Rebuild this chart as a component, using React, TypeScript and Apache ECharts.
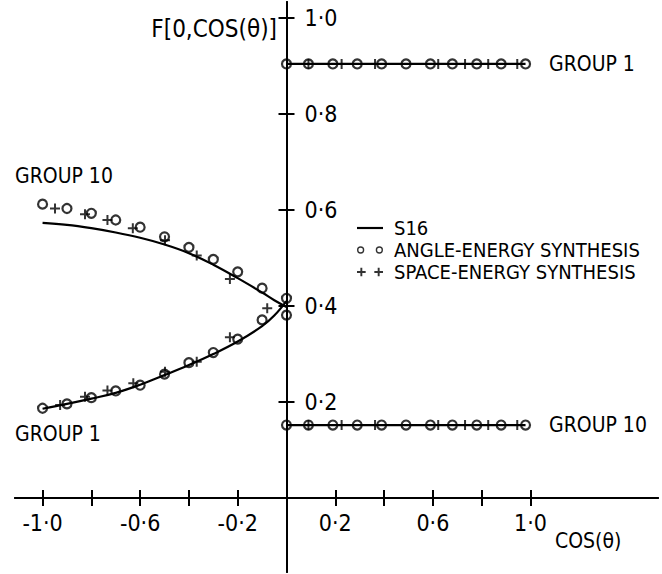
import React, { useEffect, useRef } from "react";
import * as echarts from "echarts";

// ---- data ----
const upperLineX = [-1.0, -0.9, -0.8, -0.7, -0.6, -0.5, -0.4, -0.3, -0.2, -0.1, -0.05, 0.0];
const upperLineY = [0.573, 0.569, 0.562, 0.553, 0.542, 0.528, 0.51, 0.486, 0.458, 0.428, 0.412, 0.398];
const lowerLineX = [-1.0, -0.9, -0.8, -0.7, -0.6, -0.5, -0.4, -0.3, -0.2, -0.1, -0.05, 0.0];
const lowerLineY = [0.186, 0.196, 0.207, 0.219, 0.236, 0.256, 0.277, 0.3, 0.326, 0.358, 0.38, 0.41];

const leftCircleX = [-1.0, -0.9, -0.8, -0.7, -0.6, -0.5, -0.4, -0.3, -0.2, -0.1, 0.0];
const upperCircleY = [0.612, 0.603, 0.593, 0.579, 0.564, 0.544, 0.522, 0.497, 0.471, 0.437, 0.416];
const lowerCircleY = [0.187, 0.196, 0.209, 0.223, 0.235, 0.258, 0.282, 0.303, 0.331, 0.371, 0.381];

const upperPlusX = [-0.949, -0.826, -0.734, -0.63, -0.498, -0.368, -0.232];
const upperPlusY = [0.603, 0.591, 0.579, 0.562, 0.537, 0.505, 0.456];
const lowerPlusX = [-0.928, -0.826, -0.734, -0.628, -0.498, -0.368, -0.232, -0.079];
const lowerPlusY = [0.194, 0.211, 0.224, 0.239, 0.263, 0.284, 0.335, 0.395];

const rightX = [0, 0.09, 0.19, 0.29, 0.39, 0.49, 0.59, 0.68, 0.78, 0.88, 0.98];
const rightPlusX = [0.09, 0.226, 0.363, 0.622, 0.732, 0.827, 0.946];
const group1Level = 0.904;
const group10Level = 0.152;

const xTicks = [-1.0, -0.8, -0.6, -0.4, -0.2, 0, 0.2, 0.4, 0.6, 0.8, 1.0];
const xTickLabels = [-1.0, -0.6, -0.2, 0.2, 0.6, 1.0];
const yTicks = [0.2, 0.4, 0.6, 0.8, 1.0];
const yTickLabels = [0.2, 0.4, 0.6, 0.8, 1.0];

const X_MIN = -1.113;
const X_MAX = 1.523;
const Y_MIN = -0.154;
const Y_MAX = 1.033;

const TEXT_FONT = "'DejaVu Sans Condensed', 'Liberation Sans Narrow', sans-serif";
const NUM_FONT = "'DejaVu Sans Condensed', sans-serif";

const PLUS_PATH = "path://M4,0h2v4h4v2h-4v4h-2v-4h-4v-2h4z";
const LEGEND_LINE = "path://M0,0h24v2h-24z";
const LEGEND_RINGS =
  "path://M0,3.5A3.5,3.5,0,1,1,7,3.5A3.5,3.5,0,1,1,0,3.5Z M1.3,3.5A2.2,2.2,0,1,0,5.7,3.5A2.2,2.2,0,1,0,1.3,3.5Z " +
  "M18,3.5A3.5,3.5,0,1,1,25,3.5A3.5,3.5,0,1,1,18,3.5Z M19.3,3.5A2.2,2.2,0,1,0,23.7,3.5A2.2,2.2,0,1,0,19.3,3.5Z";
const LEGEND_PLUS =
  "path://M3.5,0h2v3.5h3.5v2h-3.5v3.5h-2v-3.5h-3.5v-2h3.5z M21.5,0h2v3.5h3.5v2h-3.5v3.5h-2v-3.5h-3.5v-2h3.5z";

const fmt = (v: number) => v.toFixed(1).replace(".", "\u00B7");

// layout of the plotting area
const GRID = { left: 15, right: 4, top: 2, bottom: 2 };
const W = 662;
const H = 574;

export default function App() {
  const ref = useRef<HTMLDivElement>(null);

  useEffect(() => {
    if (!ref.current) return;
    const chart = echarts.init(ref.current, null, { renderer: "svg" });

    const pair = (xs: number[], ys: number[]) => xs.map((x, i) => [x, ys[i]]);
    const level = (xs: number[], y: number) => xs.map((x) => [x, y]);

    const circles = [
      ...pair(leftCircleX, upperCircleY),
      ...pair(leftCircleX, lowerCircleY),
      ...level(rightX, group1Level),
      ...level(rightX, group10Level),
    ];
    const pluses = [
      ...pair(upperPlusX, upperPlusY),
      ...pair(lowerPlusX, lowerPlusY),
      ...level(rightPlusX, group1Level),
      ...level(rightPlusX, group10Level),
    ];

    // distance from the grid edge to the zero line, used to bring the labelled axes onto zero
    const gridW = W - GRID.left - GRID.right;
    const gridH = H - GRID.top - GRID.bottom;
    const xZeroFromLeft = ((0 - X_MIN) / (X_MAX - X_MIN)) * gridW;
    const yZeroFromBottom = ((0 - Y_MIN) / (Y_MAX - Y_MIN)) * gridH;

    const lineSt = { color: "#000", width: 2 };
    const onZeroLine = { show: true, onZero: true, onZeroAxisIndex: 0, lineStyle: lineSt };
    const offLine = { show: true, onZero: false, lineStyle: lineSt };
    const tickStyle = { color: "#000", width: 2 };
    const lineStyle = { color: "#000", width: 2.2 };
    const textCommon = { fill: "#000", fontSize: 21, fontFamily: TEXT_FONT, verticalAlign: "middle" };

    chart.setOption({
      animation: false,
      backgroundColor: "#fff",
      grid: { ...GRID, containLabel: false, outerBoundsMode: "none" },
      xAxis: [
        {
          type: "value",
          min: X_MIN,
          max: X_MAX,
          splitLine: { show: false },
          position: "bottom",
          offset: -yZeroFromBottom,
          axisLine: offLine,
          axisTick: { show: true, inside: false, length: 8, customValues: xTicks, lineStyle: tickStyle },
          axisLabel: {
            show: true,
            customValues: xTickLabels,
            formatter: (v: number) => fmt(v),
            margin: 13,
            color: "#000",
            fontSize: 23,
            fontFamily: NUM_FONT,
          },
        },
        {
          type: "value",
          min: X_MIN,
          max: X_MAX,
          splitLine: { show: false },
          position: "top",
          axisLine: onZeroLine,
          axisTick: { show: true, inside: false, length: 8, customValues: xTicks, lineStyle: tickStyle },
          axisLabel: { show: false },
        },
      ],
      yAxis: [
        {
          type: "value",
          min: Y_MIN,
          max: Y_MAX,
          splitLine: { show: false },
          position: "left",
          offset: -xZeroFromLeft,
          axisLine: offLine,
          axisTick: { show: true, inside: false, length: 8, customValues: yTicks, lineStyle: tickStyle },
          axisLabel: {
            show: true,
            inside: true,
            customValues: yTickLabels,
            formatter: (v: number) => fmt(v),
            margin: 18,
            color: "#000",
            fontSize: 23,
            fontFamily: NUM_FONT,
          },
        },
        {
          type: "value",
          min: Y_MIN,
          max: Y_MAX,
          splitLine: { show: false },
          position: "right",
          axisLine: onZeroLine,
          axisTick: { show: true, inside: false, length: 8, customValues: yTicks, lineStyle: tickStyle },
          axisLabel: { show: false },
        },
      ],
      legend: {
        orient: "vertical",
        left: 357,
        top: 217,
        padding: 0,
        itemGap: 0,
        itemWidth: 26,
        itemHeight: 9,
        selectedMode: false,
        textStyle: {
          color: "#000",
          fontSize: 20,
          lineHeight: 22,
          fontFamily: TEXT_FONT,
          padding: [0, 0, 0, 6],
        },
        data: [
          { name: "S16", icon: LEGEND_LINE, itemStyle: { color: "#000", borderWidth: 0 } },
          { name: "ANGLE-ENERGY SYNTHESIS", icon: LEGEND_RINGS, itemStyle: { color: "#000", borderWidth: 0 } },
          { name: "SPACE-ENERGY SYNTHESIS", icon: LEGEND_PLUS, itemStyle: { color: "#000", borderWidth: 0 } },
        ],
      },
      graphic: [
        { type: "text", x: 277, y: 29, style: { ...textCommon, text: "F[0,COS(\u03B8)]", fontSize: 24, align: "right" } },
        { type: "text", x: 555, y: 541, style: { ...textCommon, text: "COS(\u03B8)", align: "left" } },
        { type: "text", x: 15, y: 176, style: { ...textCommon, text: "GROUP 10", align: "left" } },
        { type: "text", x: 15, y: 434, style: { ...textCommon, text: "GROUP 1", align: "left" } },
        { type: "text", x: 549, y: 64, style: { ...textCommon, text: "GROUP 1", align: "left" } },
        { type: "text", x: 549, y: 425, style: { ...textCommon, text: "GROUP 10", align: "left" } },
      ],
      series: [
        { name: "S16", type: "line", data: pair(upperLineX, upperLineY), showSymbol: false, symbol: "none", smooth: 0.4, lineStyle },
        { name: "S16", type: "line", data: pair(lowerLineX, lowerLineY), showSymbol: false, symbol: "none", smooth: 0.4, lineStyle },
        { name: "S16", type: "line", data: level(rightX, group1Level), showSymbol: false, symbol: "none", lineStyle },
        { name: "S16", type: "line", data: level(rightX, group10Level), showSymbol: false, symbol: "none", lineStyle },
        {
          name: "ANGLE-ENERGY SYNTHESIS",
          type: "scatter",
          data: circles,
          symbol: "circle",
          symbolSize: 9,
          itemStyle: { color: "rgba(0,0,0,0)", borderColor: "#000", borderWidth: 2.2 },
          z: 3,
        },
        {
          name: "SPACE-ENERGY SYNTHESIS",
          type: "scatter",
          data: pluses,
          symbol: PLUS_PATH,
          symbolSize: 10,
          itemStyle: { color: "#000" },
          z: 4,
        },
      ],
    });

    return () => chart.dispose();
  }, []);

  return (
    <div
      ref={ref}
      style={{ position: "fixed", left: 0, top: 0, width: W, height: H, background: "#fff" }}
    />
  );
}
